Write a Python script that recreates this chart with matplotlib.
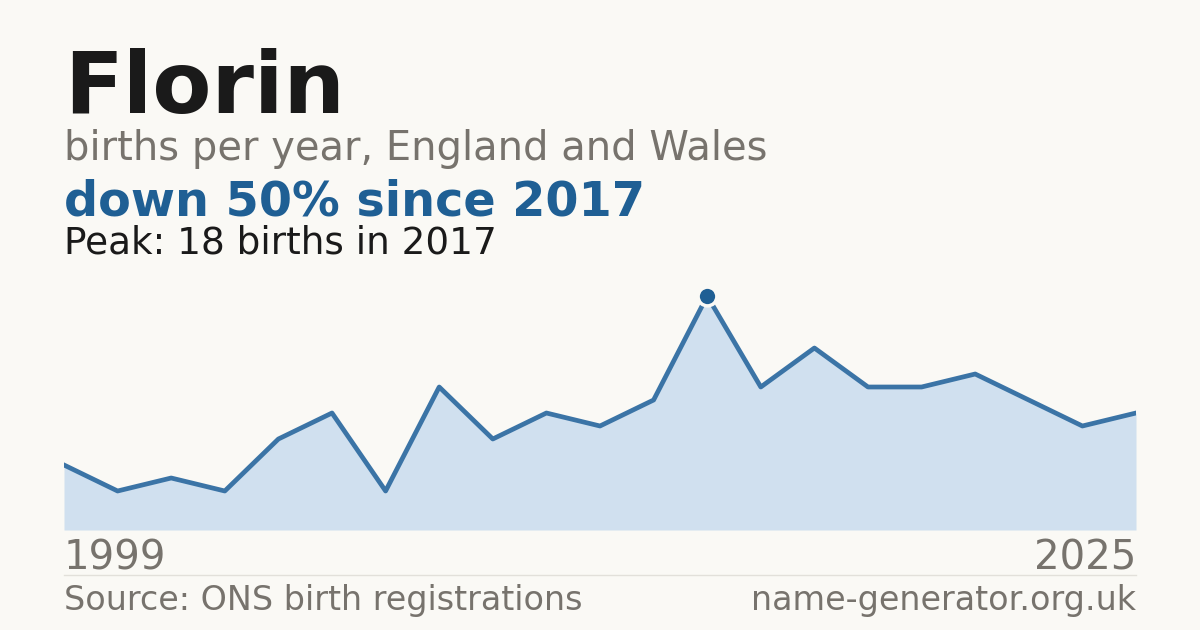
import matplotlib.pyplot as plt

# births per year (only years with data), 1999 .. 2025
births = [5, 3, 4, 3, 7, 9, 3, 11, 7, 9, 8, 10, 18, 11, 14, 11, 11, 12, 10, 8, 9]
first_year = "1999"
last_year = "2025"
peak_index = 12

name = "Florin"
subtitle = "births per year, England and Wales"
headline = "down 50% since 2017"
peak_note = "Peak: 18 births in 2017"
source = "Source: ONS birth registrations"
site = "name-generator.org.uk"

BG = "#faf9f5"
BLUE = "#1f5f94"
LINE = "#3b74a6"
FILL = "#d0e0ef"
GREY = "#77736d"
DARK = "#1a1a1a"

W, H = 1200, 630


def fy(px):
    return 1 - px / H


def main():
    plt.rcParams['font.family'] = ['DejaVu Sans']
    fig = plt.figure(figsize=(12, 6.3), dpi=100, facecolor=BG)

    ax = fig.add_axes([64 / W, fy(530), 1072 / W, 234 / H])
    ax.set_facecolor(BG)
    xs = list(range(len(births)))
    ax.fill_between(xs, births, 0, color=FILL, lw=0)
    ax.plot(xs, births, color=LINE, lw=3.4)
    ax.plot(xs[peak_index], births[peak_index], 'o', ms=13.5, color=BLUE,
            mec=BG, mew=2.5, clip_on=False, zorder=5)
    ax.set_xlim(0, len(births) - 1)
    ax.set_ylim(0, max(births))
    ax.axis('off')

    fig.text(64 / W, fy(113), name, fontsize=62, fontweight='bold', color=DARK, va='baseline')
    fig.text(64 / W, fy(160), subtitle, fontsize=28.8, color=GREY, va='baseline')
    fig.text(64 / W, fy(215), headline, fontsize=34.4, fontweight='bold', color=BLUE, va='baseline')
    fig.text(64 / W, fy(254), peak_note, fontsize=26.9, color=DARK, va='baseline')

    fig.text(64 / W, fy(570), first_year, fontsize=29, color=GREY, va='baseline')
    fig.text(1136 / W, fy(570), last_year, fontsize=29, color=GREY, va='baseline', ha='right')
    fig.add_artist(plt.Line2D([64 / W, 1136 / W], [fy(574.5), fy(574.5)], color='#e2e0da', lw=1))
    fig.text(64 / W, fy(610), source, fontsize=24, color=GREY, va='baseline')
    fig.text(1136 / W, fy(610), site, fontsize=24, color=GREY, va='baseline', ha='right')

    fig.savefig('out.png', dpi=100, facecolor=BG)


if __name__ == "__main__":
    main()
